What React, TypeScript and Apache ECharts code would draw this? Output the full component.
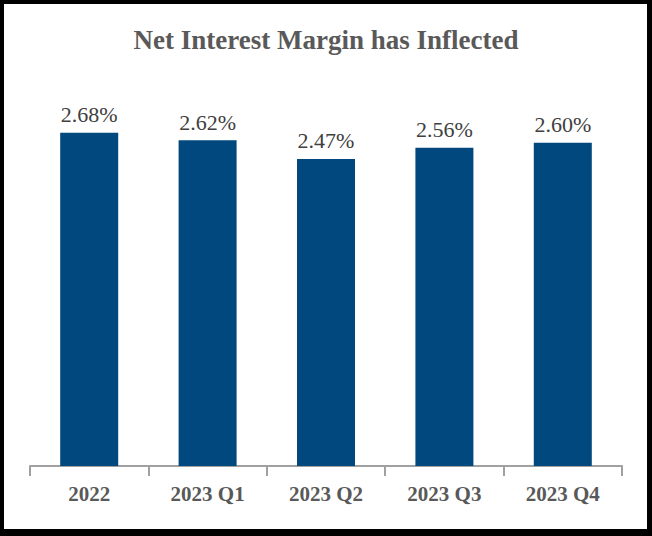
import React, { useEffect, useRef } from "react";
import * as echarts from "echarts";

const categories = ["2022", "2023 Q1", "2023 Q2", "2023 Q3", "2023 Q4"];
const nimValues = [2.68, 2.62, 2.47, 2.56, 2.6];
const titleText = "Net Interest Margin has Inflected";

const SERIF = "Liberation Serif";

export default function App() {
  const ref = useRef<HTMLDivElement>(null);
  useEffect(() => {
    document.body.style.margin = "0";
    const chart = echarts.init(ref.current!, undefined, { renderer: "svg" });
    chart.setOption({
      animation: false,
      backgroundColor: "#000000",
      textStyle: { fontFamily: SERIF },
      graphic: [
        {
          type: "rect",
          z: -10,
          shape: { x: 4, y: 4, width: 643, height: 525 },
          style: { fill: "#ffffff" },
          silent: true,
        },
      ],
      title: {
        text: titleText,
        left: "center",
        top: 21,
        textStyle: {
          fontFamily: SERIF,
          fontWeight: "bold",
          fontSize: 27,
          color: "#595959",
        },
      },
      grid: { left: 30, right: 30, top: 93, bottom: 70, containLabel: false },
      xAxis: {
        type: "category",
        data: categories,
        axisLine: { lineStyle: { color: "#a0a0a0", width: 2 } },
        axisTick: { show: true, length: 10, lineStyle: { color: "#a0a0a0", width: 2 } },
        axisLabel: {
          margin: 17,
          fontFamily: SERIF,
          fontWeight: "bold",
          fontSize: 21,
          color: "#595959",
        },
      },
      yAxis: { type: "value", min: 0, max: 3, show: false },
      series: [
        {
          type: "bar",
          data: nimValues,
          barWidth: 58,
          itemStyle: { color: "#00487D" },
          label: {
            show: true,
            position: "top",
            distance: 7,
            formatter: (p: any) => p.value.toFixed(2) + "%",
            fontFamily: SERIF,
            fontSize: 22,
            color: "#404040",
          },
        },
      ],
    });
    return () => chart.dispose();
  }, []);
  return <div ref={ref} style={{ width: 652, height: 536 }} />;
}
